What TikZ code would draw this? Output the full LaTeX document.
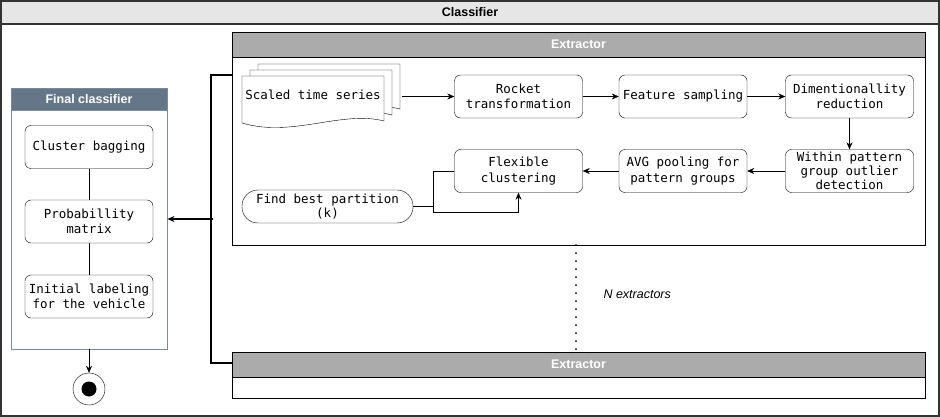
\documentclass[tikz,border=0pt]{standalone}
\usepackage{fontspec}
\setmainfont{Liberation Sans}
\setmonofont{DejaVu Sans Mono}
\usetikzlibrary{arrows.meta}
\definecolor{titlegray}{HTML}{E6E6E6}
\definecolor{extgray}{HTML}{ABABAB}
\definecolor{slatefill}{HTML}{647687}
\definecolor{slateline}{HTML}{7A8A9A}
\newcommand{\boxfont}{\ttfamily\fontsize{12.5}{15.5}\selectfont}
\newcommand{\hdrfont}{\fontsize{12.5}{14}\selectfont\bfseries}

\begin{document}
\begin{tikzpicture}[x=1pt,y=-1pt,
    box/.style={draw, rounded corners=6pt, minimum width=128pt, minimum height=43pt,
      inner sep=0pt, align=center, font=\boxfont},
    frame/.style={draw, inner sep=0pt},
    hdr/.style={draw, inner sep=0pt, anchor=north, font=\hdrfont},
    arr/.style={-{Stealth[length=7pt,width=6pt]}},
    bus/.style={line width=1.6pt}]
  \useasboundingbox (0,0) rectangle (940,417);

  % outer frame
  \node (cls) [frame, draw=black!80, line width=1.2pt, minimum width=938pt, minimum height=415pt] at (470,208.5) {};
  \node (clsh) [hdr, draw=black!80, line width=1.2pt, fill=titlegray, minimum width=938pt, minimum height=23pt] at (cls.north) {Classifier};

  % extractors
  \node (ext1) [frame, minimum width=693pt, minimum height=213pt] at (578.5,138.5) {};
  \node (ext1h) [hdr, fill=extgray, text=white, minimum width=693pt, minimum height=25pt] at (ext1.north) {Extractor};
  \node (ext2) [frame, minimum width=693pt, minimum height=46pt] at (578.5,375) {};
  \node (ext2h) [hdr, fill=extgray, text=white, minimum width=693pt, minimum height=25pt] at (ext2.north) {Extractor};

  % final classifier
  \node (fin) [frame, draw=slateline, line width=0.9pt, minimum width=156pt, minimum height=261pt] at (89,218.5) {};
  \node (finh) [hdr, draw=slateline, line width=0.9pt, fill=slatefill, text=white, minimum width=156pt, minimum height=22pt] at (fin.north) {Final classifier};
  \node (bag) [box] at (89,147) {Cluster bagging};
  \node (prob) [box] at (89,221.5) {Probabillity\\matrix};
  \node (init) [box] at (89,296.5) {Initial labeling\\for the vehicle};
  \node (end) [draw, circle, fill=white, minimum size=32pt, inner sep=0pt] at (89,389) {};
  \node (endin) [circle, fill=black, minimum size=15pt, inner sep=0pt] at (end.center) {};

  % scaled time series (stacked documents)
  \foreach \d in {16,8,0} {
    \pgfmathsetmacro{\x}{242+\d}
    \pgfmathsetmacro{\y}{76-0.75*\d}
    \draw[fill=white] (\x,\y) -- (\x+142,\y) -- (\x+142,\y+45)
      .. controls (\x+100,\y+34) and (\x+50,\y+62) .. (\x,\y+47) -- cycle;
  }
  \node (sts) [font=\boxfont, inner sep=0pt] at (313,95) {Scaled time series};
  \coordinate (stsE) at (402,96.5);

  \node (rocket) [box] at (518.5,96.5) {Rocket\\transformation};
  \node (feat) [box] at (683,96.5) {Feature sampling};
  \node (dim) [box] at (849.5,96.5) {Dimentionallity\\reduction};
  \node (outl) [box, font=\ttfamily\fontsize{12.5}{14.2}\selectfont] at (849.5,171) {Within pattern\\group outlier\\detection};
  \node (avg) [box] at (683,171) {AVG pooling for\\pattern groups};
  \node (flex) [box] at (518.5,171) {Flexible\\clustering};
  \node (part) [box, rounded corners=16pt, minimum width=171pt, minimum height=33pt,
    font=\ttfamily\fontsize{12.5}{14.5}\selectfont] at (327.5,206.5) {Find best partition\\(k)};
  \coordinate (lp) at (433,212);

  \draw[arr] (stsE) -- (rocket.west);
  \draw[arr] (rocket) -- (feat);
  \draw[arr] (feat) -- (dim);
  \draw[arr] (dim) -- (outl);
  \draw[arr] (outl) -- (avg);
  \draw[arr] (avg) -- (flex);
  \draw (flex.west) -| (lp);
  \draw[arr] (part.east) -| (lp) -| (flex.south);

  % bus to the final classifier
  \coordinate (jn) at (213,219);
  \draw[bus] (ext1.west |- 0,75) -- ++(-21,0) |- (ext2.west |- 0,363);
  \draw[bus, arr] (jn) -- (fin.east |- jn);
  \draw (bag) -- (prob);
  \draw (prob) -- (init);
  \draw[arr] (fin.south) -- (end.north);

  % more extractors
  \draw[line width=2pt, line cap=round, dash pattern=on 0pt off 8pt] (ext1.south -| 576,0) -- (ext2.north -| 576,0);
  \node (nx) [font=\fontsize{12.5}{14}\selectfont\itshape, anchor=west] at (600,294) {N extractors};
\end{tikzpicture}
\end{document}
